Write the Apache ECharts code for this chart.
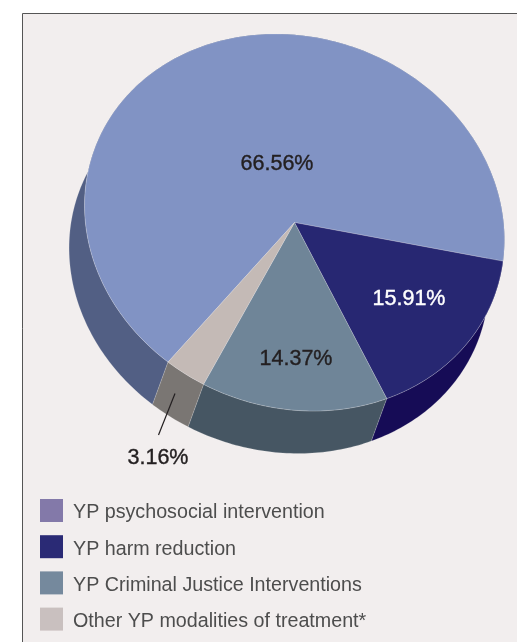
<!DOCTYPE html>
<html>
<head>
<meta charset="utf-8">
<style>
html, body { margin: 0; padding: 0; background: #fff; }
#chart { width: 517px; height: 642px; }
</style>
<script src="https://cdn.jsdelivr.net/npm/echarts@6/dist/echarts.min.js"></script>
</head>
<body>
<div id="chart"></div>
<script>
// 数据
var categories = ['YP psychosocial intervention', 'YP harm reduction', 'YP Criminal Justice Interventions', 'Other YP modalities of treatment*'];
var shares = [66.56, 15.91, 14.37, 3.16];
var topColors = ['#8193c4', '#272772', '#6f8598', '#c4bab6'];
var sideColors = ['#525f84', '#160c56', '#465663', '#7a7673'];
var legendColors = ['#8379a9', '#2a2a75', '#75899d', '#c9c0bf'];
var labelColors = ['#231f20', '#ffffff', '#231f20', '#231f20'];

// tilted pie geometry
var pie = { cx: 294.5, cy: 222.5, rx: 213, ry: 185, tilt: 20, startAngle: 109.5, dx: -15.5, dy: 42.5 };
var labelSpots = [[277, 164], [409, 299], [296, 359], [158, 458]];

function rim(deg, dx, dy) {
    var a = deg * Math.PI / 180, t = pie.tilt * Math.PI / 180;
    var x = pie.rx * Math.cos(a), y = pie.ry * Math.sin(a);
    return [
        pie.cx + x * Math.cos(t) - y * Math.sin(t) + (dx || 0),
        pie.cy + x * Math.sin(t) + y * Math.cos(t) + (dy || 0)
    ];
}

function sliceRange(i) {
    var before = 0;
    for (var k = 0; k < i; k++) before += shares[k];
    var start = pie.startAngle + before * 3.6;
    return [start, start + shares[i] * 3.6];
}

function arc(range, dx, dy) {
    var pts = [];
    for (var d = range[0]; d < range[1]; d += 1) pts.push(rim(d, dx, dy));
    pts.push(rim(range[1], dx, dy));
    return pts;
}

function renderSide(params) {
    var i = params.dataIndex;
    var range = sliceRange(i);
    var pts = arc(range).concat(arc(range, pie.dx, pie.dy).reverse());
    return {
        type: 'polygon',
        shape: { points: pts },
        style: { fill: sideColors[i], stroke: 'rgba(235,235,240,0.35)', lineWidth: 0.5 }
    };
}

function renderTop(i) {
    return function () {
        var pts = [[pie.cx, pie.cy]].concat(arc(sliceRange(i)));
        return {
            type: 'polygon',
            shape: { points: pts },
            style: { fill: topColors[i], stroke: 'rgba(235,235,240,0.45)', lineWidth: 0.5 }
        };
    };
}

function renderLabels(params) {
    var i = params.dataIndex;
    var children = [{
        type: 'text',
        x: labelSpots[i][0],
        y: labelSpots[i][1],
        style: {
            text: shares[i].toFixed(2) + '%',
            fill: labelColors[i],
            stroke: labelColors[i],
            lineWidth: 0.4,
            font: '21.5px "Liberation Sans", Arial, sans-serif',
            align: 'center',
            verticalAlign: 'middle'
        }
    }];
    if (i === 3) {
        children.push({
            type: 'line',
            shape: { x1: 175, y1: 393.5, x2: 158.5, y2: 435 },
            style: { stroke: '#231f20', lineWidth: 1.2 }
        });
    }
    return { type: 'group', children: children };
}

var series = [{
    type: 'custom',
    name: 'side',
    coordinateSystem: 'none',
    silent: true,
    z: 2,
    data: shares,
    renderItem: renderSide
}];

categories.forEach(function (name, i) {
    series.push({
        type: 'custom',
        name: name,
        coordinateSystem: 'none',
        z: 3,
        data: [shares[i]],
        itemStyle: { color: topColors[i] },
        renderItem: renderTop(i)
    });
});

series.push({
    type: 'custom',
    name: 'labels',
    coordinateSystem: 'none',
    silent: true,
    z: 5,
    data: shares,
    renderItem: renderLabels
});

var chart = echarts.init(document.getElementById('chart'), null, { renderer: 'canvas' });
chart.setOption({
    animation: false,
    backgroundColor: '#ffffff',
    graphic: [{
        type: 'rect',
        z: 0,
        silent: true,
        shape: { x: 22.5, y: 13.5, width: 600, height: 700 },
        style: { fill: '#f2eeee', stroke: '#555555', lineWidth: 1 }
    }],
    legend: {
        orient: 'vertical',
        left: 40,
        top: 499,
        icon: 'rect',
        itemWidth: 23,
        itemHeight: 23,
        itemGap: 12.2,
        selectedMode: false,
        formatter: '{t|{name}}',
        textStyle: {
            rich: {
                t: {
                    color: '#4d4d4d',
                    fontFamily: '"Liberation Sans", Arial, sans-serif',
                    fontSize: 19.7,
                    padding: [5, 0, 0, 5]
                }
            }
        },
        padding: 0,
        data: categories.map(function (name, i) {
            return { name: name, itemStyle: { color: legendColors[i] } };
        })
    },
    series: series
});
</script>
</body>
</html>
